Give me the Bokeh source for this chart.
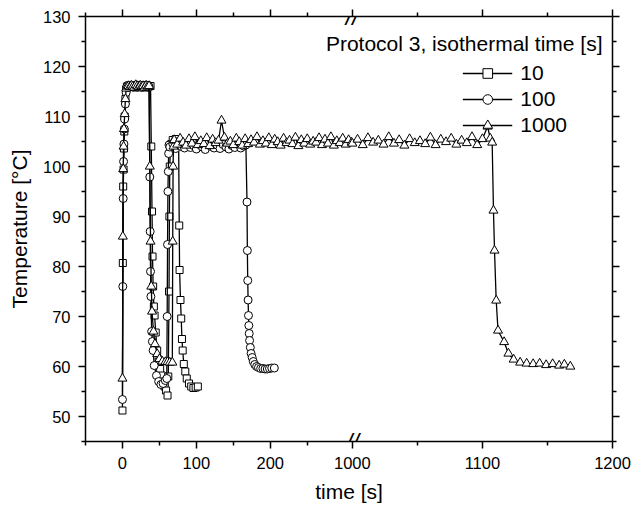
import numpy as np
from bokeh.plotting import figure
from bokeh.models import (Range1d, LinearAxis, FixedTicker, ColumnDataSource, Legend,
                          LegendItem, Label, CustomJSTickFormatter)
from bokeh.embed import file_html
from bokeh.resources import INLINE

# ---------------- data (time in s, temperature in degC) ----------------
t10 = [0, 0.5, 1, 1.5, 2, 2.5, 3, 4, 5, 6, 8, 10, 12, 14, 16, 18, 20, 22, 24, 26, 28, 30, 32, 34, 36, 38,
       39, 40, 40.7, 41.5, 42.5, 43.5, 45, 47, 49, 51, 53, 55, 57, 59, 61,
       62, 63, 63.5, 64, 65, 66, 68, 70, 72, 74, 76,
       76.8, 77.3, 78.5, 79.5, 80.5, 81.5, 83, 85, 87, 90, 93, 96, 99, 102]
T10 = [51.2, 80.7, 96.0, 99.4, 103.6, 107.0, 110.0, 113.5, 115.4, 116.0, 116.2, 115.9, 116.3, 116.0, 116.2,
       115.8, 116.1, 116.3, 116.0, 115.9, 116.2, 116.1, 115.8, 116.2, 116.0, 116.1,
       104.0, 91.0, 82.0, 76.0, 72.0, 70.2, 66.8, 63.2, 61.0, 59.5, 58.2, 57.0, 56.0, 55.2, 54.2,
       58.0, 75.0, 90.0, 100.0, 104.0, 104.5, 105.3, 104.2, 105.5, 104.6, 105.0,
       88.2, 79.3, 73.3, 69.6, 65.5, 63.2, 60.5, 59.0, 57.6, 56.6, 56.0, 55.7, 55.8, 56.0]

t100 = [0, 0.5, 1, 1.5, 2, 2.5, 3, 4, 5, 6, 8, 10, 12, 14, 16, 18, 20, 22, 24, 26, 28, 30, 32, 34, 36,
        37, 37.5, 38, 38.5, 39.5, 40.5, 41.5, 43, 46, 49, 52, 55, 58, 60,
        60.5, 61, 61.5, 62, 62.5, 63,
        64, 68, 72, 76, 80, 84, 88, 92, 96, 100, 104, 108, 112, 116, 120, 124, 128, 132, 136, 140,
        144, 148, 152, 156, 160, 164, 167,
        168.5, 169, 169.5, 170, 170.5, 171, 171.5, 172, 173, 174, 175.5, 177, 179, 181.5, 184, 187,
        190, 193, 196, 199, 202, 205.5]
T100 = [53.4, 76.0, 93.6, 101.0, 104.5, 107.5, 109.5, 112.5, 114.8, 116.0, 115.8, 116.1, 116.2, 115.9, 116.0,
        116.3, 115.9, 116.1, 116.2, 115.8, 116.0, 116.2, 116.1, 115.9, 116.0,
        97.9, 87.0, 79.0, 74.0, 67.0, 65.0, 63.2, 60.2, 58.2, 57.0, 56.4, 56.6, 57.2, 57.6,
        70.0, 84.4, 95.0, 99.0, 102.6, 104.3,
        103.9, 104.6, 103.6, 104.3, 104.0, 103.7, 104.5, 103.8, 104.2, 103.5,
        104.4, 103.9, 103.4, 104.6, 104.0, 103.7, 104.3, 103.6, 104.4, 103.9,
        103.5, 104.2, 103.8, 104.5, 103.7, 104.1, 104.3,
        92.9, 83.2, 77.2, 73.3, 70.2, 68.2, 66.6, 65.2, 63.8, 62.6, 61.8, 61.0, 60.4, 60.0, 59.8, 59.6,
        59.6, 59.5, 59.5, 59.6, 59.7, 59.7]

t1000 = [0, 0.5, 1, 1.5, 2, 3, 4, 5, 6, 8, 10, 12, 14, 16, 18, 20, 22, 24, 26, 28, 30, 32, 34, 36,
         37, 38, 39, 40, 42, 44, 47, 50, 54, 58, 61, 64, 67.5,
         68, 68.5, 69, 69.5,
         70, 74, 78, 82, 86, 90, 94, 98, 102, 106, 110, 114, 118, 122, 126, 130, 134, 138, 142, 146,
         150, 154, 158, 162, 166, 170, 174, 178, 182, 186, 190, 194, 198, 202, 206, 210, 214, 218, 222, 226,
         230, 234, 238, 242, 246, 250, 254, 258, 262, 266, 270, 274, 278, 282, 286, 290, 294, 298, 302, 306,
         310,
         1000, 1004, 1008, 1012, 1016, 1020, 1024, 1028, 1032, 1036, 1040, 1044, 1048, 1052, 1056, 1060,
         1064, 1068, 1072, 1076, 1080, 1084, 1088, 1092, 1096, 1100, 1104, 1106, 1107.5,
         1108.5, 1109.3, 1110.6, 1112, 1116.7, 1120, 1124, 1129, 1134, 1139, 1144, 1149, 1154, 1159, 1163, 1167.6]
T1000 = [57.6, 86.0, 99.5, 104.0, 107.5, 110.5, 113.5, 115.6, 116.0,
         116.1, 115.9, 116.2, 116.0, 115.8, 116.3, 116.1, 115.9, 116.2, 116.0, 116.1, 115.8, 116.2, 116.0, 116.1,
         100.0, 85.0, 76.0, 71.0, 67.0, 64.5, 62.5, 61.5, 61.0, 60.9, 60.9, 60.8, 60.8,
         85.0, 100.0, 104.0, 105.2,
         105.3, 104.4, 105.6, 104.8, 104.2, 105.5, 104.6, 105.9, 104.3, 105.1,
         104.5, 105.7, 104.1, 105.4, 104.7, 105.2, 109.2, 105.8, 104.6, 105.0,
         104.3, 105.6, 104.9, 104.2, 105.5, 104.5, 105.3, 104.8, 105.9, 104.4,
         105.1, 104.6, 105.7, 104.3, 105.4, 104.9, 104.2, 105.6, 104.7, 105.2,
         104.5, 105.8, 104.1, 105.3, 104.6, 105.5, 104.4, 105.0, 104.8, 105.7,
         104.3, 105.4, 104.6, 105.9, 104.2, 105.1, 104.7, 105.6, 104.4, 105.3,
         104.8,
         104.6, 105.4, 104.3, 105.7, 104.8, 105.2, 104.4, 105.9, 104.6, 105.3,
         104.2, 105.5, 104.7, 105.1, 104.5, 105.8, 104.3, 105.4, 104.9, 105.6,
         104.4, 105.2, 104.7, 105.9, 104.3, 105.5, 108.0, 105.6, 104.8,
         91.2, 83.2, 73.2, 67.2, 64.9, 62.6, 61.4, 60.8, 60.6, 60.5, 60.6, 60.3, 60.5, 60.2, 60.4, 60.0]

series_names = ["10", "100", "1000"]
legend_title = "Protocol 3, isothermal time [s]"

x_major_left = [0, 100, 200]
x_minor_left = [-50, 50, 150, 250]
x_major_right = [1000, 1100, 1200]
x_minor_right = [1050, 1150]
y_major = [50, 60, 70, 80, 90, 100, 110, 120, 130]
y_minor = [45, 55, 65, 75, 85, 95, 105, 115, 125]
Y_MIN, Y_MAX = 45, 130

# ---------------- broken axis geometry ----------------
LEFT_START, BREAK = -50, 311        # left segment  -50 .. 311 s
RIGHT_START, RIGHT_END = 1000, 1200  # right segment 1000 .. 1200 s
K = 1.76                             # right segment is stretched by this factor
x_left_range = Range1d(LEFT_START, BREAK + (RIGHT_END - RIGHT_START) * K)
x_right_range = Range1d(RIGHT_START - (BREAK - LEFT_START) / K, RIGHT_END)


def right_to_left_units(v):
    f = (v - x_right_range.start) / (x_right_range.end - x_right_range.start)
    return x_left_range.start + f * (x_left_range.end - x_left_range.start)


FONT = "Liberation Sans"
W, H = 632, 508
BL, BR, BT, BB = 85, 20, 16, 67

p = figure(width=W, height=H, output_backend="svg", toolbar_location=None,
           x_range=x_left_range, y_range=Range1d(Y_MIN, Y_MAX),
           x_axis_type=None, y_axis_type=None,
           min_border_left=BL, min_border_right=BR, min_border_top=BT, min_border_bottom=BB)
p.extra_x_ranges = {"right": x_right_range}
p.outline_line_color = None
p.background_fill_color = "white"
p.border_fill_color = "white"

xt_pos = x_major_left + [right_to_left_units(v) for v in x_major_right]
xt_lab = [str(v) for v in x_major_left + x_major_right]
xm_pos = x_minor_left + [right_to_left_units(v) for v in x_minor_right]
x_ticker = FixedTicker(ticks=xt_pos, minor_ticks=xm_pos)
y_ticker = FixedTicker(ticks=y_major, minor_ticks=y_minor)

blank = CustomJSTickFormatter(code="return '';")
xfmt = CustomJSTickFormatter(args=dict(pos=xt_pos, lab=xt_lab), code="""
    for (let i = 0; i < pos.length; i++) { if (Math.abs(pos[i] - tick) < 1e-6) return lab[i]; }
    return '';
""")


def style(ax, show_labels=True):
    ax.axis_line_width = 1.5
    ax.axis_line_color = "black"
    ax.major_tick_line_width = 1.5
    ax.minor_tick_line_width = 1.5
    ax.major_tick_line_color = "black"
    ax.minor_tick_line_color = "black"
    ax.major_tick_out = 7
    ax.major_tick_in = 0
    ax.minor_tick_out = 4
    ax.minor_tick_in = 0
    ax.major_label_text_font = FONT
    ax.major_label_text_color = "black"
    ax.major_label_text_font_size = "16.5px" if show_labels else "0px"
    ax.major_label_standoff = 8 if show_labels else 0
    ax.axis_label_text_font = FONT
    ax.axis_label_text_font_size = "21px"
    ax.axis_label_text_font_style = "normal"
    ax.axis_label_text_color = "black"


xb = LinearAxis(ticker=x_ticker, formatter=xfmt, axis_label="time [s]")
style(xb)
xb.axis_label_standoff = 8
p.add_layout(xb, "below")

xt = LinearAxis(ticker=x_ticker, formatter=blank)
style(xt, False)
p.add_layout(xt, "above")

yl = LinearAxis(ticker=y_ticker, axis_label="Temperature [°C]")
style(yl)
yl.axis_label_standoff = 9
p.add_layout(yl, "left")

yr = LinearAxis(ticker=y_ticker, formatter=blank)
style(yr, False)
p.add_layout(yr, "right")

# axis-break marks "//": label-only axes pinned on the bottom and top frame edges
for side, loc in (("below", Y_MIN), ("above", Y_MAX)):
    bx = LinearAxis(ticker=FixedTicker(ticks=[BREAK], minor_ticks=[]),
                    formatter=CustomJSTickFormatter(code="return '//';"),
                    fixed_location=loc)
    bx.axis_line_color = None
    bx.major_tick_line_color = None
    bx.minor_tick_line_color = None
    bx.major_tick_out = 0
    bx.major_tick_in = 0
    bx.major_label_standoff = -13
    bx.major_label_text_font = FONT
    bx.major_label_text_font_size = "24px"
    bx.major_label_text_font_style = "italic"
    bx.major_label_text_color = "black"
    p.add_layout(bx, side)

# ---------------- curves ----------------
series = [(t10, T10, "square", 7), (t100, T100, "circle", 8), (t1000, T1000, "triangle", 9)]
items = []
for (tt, TT, marker, size), name in zip(series, series_names):
    tt = np.asarray(tt, dtype=float)
    TT = np.asarray(TT, dtype=float)
    mL = tt <= BREAK
    mR = tt >= RIGHT_START
    srcL = ColumnDataSource(dict(t=tt[mL], T=TT[mL]))
    lL = p.line("t", "T", source=srcL, line_color="black", line_width=1.3)
    sL = p.scatter("t", "T", source=srcL, marker=marker, size=size,
                   fill_color="white", line_color="black", line_width=1)
    if mR.any():
        srcR = ColumnDataSource(dict(t=tt[mR], T=TT[mR]))
        p.line("t", "T", source=srcR, line_color="black", line_width=1.3, x_range_name="right")
        p.scatter("t", "T", source=srcR, marker=marker, size=size,
                  fill_color="white", line_color="black", line_width=1, x_range_name="right")
    items.append(LegendItem(label=name, renderers=[lL, sL]))

legend = Legend(items=items, location="top_right",
                label_text_font=FONT, label_text_font_size="21px", label_text_color="black",
                glyph_width=50, glyph_height=24, label_height=24, label_standoff=8,
                spacing=2, padding=0, margin=45,
                border_line_color=None, background_fill_alpha=0)
p.add_layout(legend)

p.add_layout(Label(x=1192.3, y=124.7, x_range_name="right", text=legend_title,
                   text_align="right", text_baseline="middle",
                   text_font=FONT, text_font_size="21px", text_color="black"))

open("out.html", "w").write(file_html(p, INLINE))
